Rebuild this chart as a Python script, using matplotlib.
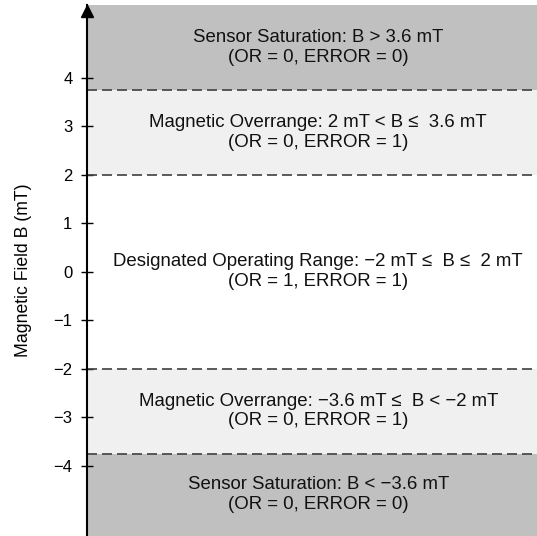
import matplotlib
matplotlib.use('Agg')
import matplotlib.pyplot as plt
from matplotlib.transforms import offset_copy

plt.rcParams['font.family'] = ['Liberation Sans', 'DejaVu Sans']

# band edges (mT), bottom to top
band_lo = [-5.45, -3.75, -2.0, 2.0, 3.75]
band_hi = [-3.75, -2.0, 2.0, 3.75, 5.5]
band_col = ['#c0c0c0', '#f0f0f0', '#ffffff', '#f0f0f0', '#c0c0c0']
band_txt = [
    'Sensor Saturation: B < \u22123.6 mT\n(OR = 0, ERROR = 0)',
    'Magnetic Overrange: \u22123.6 mT \u2264  B < \u22122 mT\n(OR = 0, ERROR = 1)',
    'Designated Operating Range: \u22122 mT \u2264  B \u2264  2 mT\n(OR = 1, ERROR = 1)',
    'Magnetic Overrange: 2 mT < B \u2264  3.6 mT\n(OR = 0, ERROR = 1)',
    'Sensor Saturation: B > 3.6 mT\n(OR = 0, ERROR = 0)',
]
dash_y = [-3.75, -2.0, 2.0, 3.75]
yticks = [-4, -3, -2, -1, 0, 1, 2, 3, 4]

fig = plt.figure(figsize=(5.37, 5.36), dpi=100)
ax = fig.add_axes([87 / 537, 0, 1 - 87 / 537, 1 - 5 / 536])

for lo, hi, c, t in zip(band_lo, band_hi, band_col, band_txt):
    ax.axhspan(lo, hi, color=c, lw=0)
    ax.text(0.514, (lo + hi) / 2, t, transform=ax.get_yaxis_transform(),
            ha='center', va='center', fontsize=13.4, color='#111111',
            linespacing=1.2)

for y in dash_y:
    ax.axhline(y, color='#404040', lw=1.2, dashes=(6, 3))

ax.set_ylim(band_lo[0], band_hi[-1])
ax.set_xlim(0, 1)
ax.set_yticks(yticks)
ax.set_yticklabels([str(v).replace('-', '\u2212') for v in yticks])
ax.set_xticks([])
ax.tick_params(axis='y', direction='inout', length=9, width=1, labelsize=12, pad=6)
for s in ['top', 'right', 'bottom']:
    ax.spines[s].set_visible(False)
ax.spines['left'].set_linewidth(1.5)
arrow_tr = offset_copy(ax.transAxes, fig=fig, x=0, y=-4.3, units='points')
ax.plot(0, 1, marker='^', color='black', markersize=8.6,
        transform=arrow_tr, clip_on=False)
ax.set_ylabel('Magnetic Field B (mT)', fontsize=12.7)
ax.yaxis.set_label_coords(-0.122, 0.5)

plt.savefig('out.png', dpi=100)
